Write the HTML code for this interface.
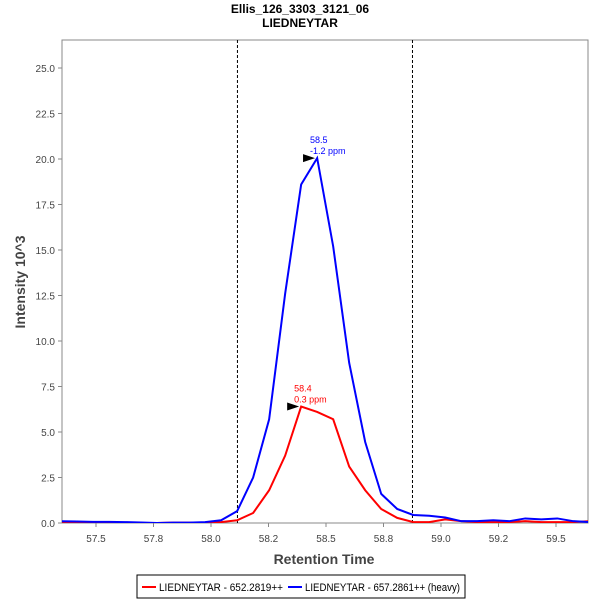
<!DOCTYPE html>
<html><head><meta charset="utf-8"><style>
body{margin:0;background:#fff;font-family:"Liberation Sans",sans-serif}
svg text{font-family:"Liberation Sans",sans-serif}
</style></head><body>
<svg id="c" width="600" height="600">
<text x="300" y="13" text-anchor="middle" font-size="12" font-weight="bold">Ellis_126_3303_3121_06</text>
<text x="300" y="27" text-anchor="middle" font-size="12" font-weight="bold">LIEDNEYTAR</text>
<rect x="62" y="40" width="526" height="483" fill="#fff" stroke="#888"/>
<g id="axes"></g><g id="series"></g>
<text x="324" y="564" text-anchor="middle" font-size="14" font-weight="bold" fill="#444">Retention Time</text>
<text transform="translate(25,282) rotate(-90)" text-anchor="middle" font-size="14" font-weight="bold" fill="#444">Intensity 10^3</text>
<g>
<rect x="137" y="575" width="328" height="23" fill="#fff" stroke="#000"/>
<line x1="142" y1="587" x2="156" y2="587" stroke="red" stroke-width="2"/>
<text x="159" y="591" font-size="11" textLength="124" lengthAdjust="spacingAndGlyphs">LIEDNEYTAR - 652.2819++</text>
<line x1="288" y1="587" x2="302" y2="587" stroke="blue" stroke-width="2"/>
<text x="305" y="591" font-size="11" textLength="155" lengthAdjust="spacingAndGlyphs">LIEDNEYTAR - 657.2861++ (heavy)</text>
</g>
</svg>
<script>
const times=[];for(let i=0;i<34;i++)times.push(57.348+i*0.0696);
const lightValues=[0.05,0.05,0.05,0.05,0.02,0,0,0.02,0.02,0.02,0.05,0.15,0.55,1.8,3.7,6.4,6.1,5.7,3.1,1.8,0.77,0.28,0.05,0.05,0.2,0.1,0.05,0.05,0.05,0.1,0.05,0.05,0.05,0.1];
const heavyValues=[0.1,0.08,0.06,0.06,0.05,0.03,0,0.02,0.02,0.05,0.15,0.65,2.5,5.7,12.6,18.6,20.05,15.2,8.8,4.45,1.6,0.77,0.44,0.4,0.3,0.1,0.1,0.15,0.1,0.25,0.2,0.25,0.1,0.05];
const xTicks=[57.5,57.75,58.0,58.25,58.5,58.75,59.0,59.25,59.5];
const xTickLabels=["57.5","57.8","58.0","58.2","58.5","58.8","59.0","59.2","59.5"];
const yTicks=[0,2.5,5,7.5,10,12.5,15,17.5,20,22.5,25];
const integrationBounds=[58.115,58.876];
const peakLight={t:58.392,v:6.4,label1:"58.4",label2:"0.3 ppm"};
const peakHeavy={t:58.461,v:20.05,label1:"58.5",label2:"-1.2 ppm"};
const X=v=>96+(v-57.5)*230, Y=v=>523-v*18.2;
const NS="http://www.w3.org/2000/svg";
function mk(tag,attrs,parent,txt){const e=document.createElementNS(NS,tag);for(const k in attrs)e.setAttribute(k,attrs[k]);if(txt!=null)e.textContent=txt;parent.appendChild(e);return e;}
const ax=document.getElementById('axes'),se=document.getElementById('series');
xTicks.forEach((t,i)=>{
 const l=mk('line',{x1:X(t),x2:X(t),y1:523,y2:527,stroke:'#888'},ax);
 
 
 const tx=mk('text',{x:X(t),y:542,'text-anchor':'middle','font-size':10,fill:'#444'},ax,xTickLabels[i]);
 
 
});
yTicks.forEach(t=>{
 const l=mk('line',{x1:58,x2:62,y1:Y(t),y2:Y(t),stroke:'#888'},ax);
 
 
 const tx=mk('text',{x:55,y:Y(t)+4,'text-anchor':'end','font-size':10,fill:'#444'},ax,t.toFixed(1));
 
 
});
integrationBounds.forEach(b=>{
 const l=mk('line',{x1:X(b),x2:X(b),y1:40,y2:523,stroke:'#000','stroke-dasharray':'3,2'},ax);
 
 
});
mk('clipPath',{id:'clip'},document.getElementById('c'));
mk('rect',{x:62,y:40,width:526,height:483},document.getElementById('clip'));
function series(vals,color,name){
 const pts=times.map((t,i)=>X(t)+','+Y(vals[i])).join(' ');
 const p=mk('polyline',{points:pts,fill:'none',stroke:color,'stroke-width':2,'clip-path':'url(#clip)'},se);
 
 
}
series(lightValues,'red','light-series-line');
series(heavyValues,'blue','heavy-series-line');
function peak(p,color,name){
 const x=X(p.t),y=Y(p.v);
 const a=mk('polygon',{points:`${x-14},${y-4} ${x-14},${y+4} ${x-2},${y}`,fill:'#000'},se);
 
 
 const t1=mk('text',{x:x-7,y:y-15,'font-size':9,fill:color},se,p.label1);
 
 
 const t2=mk('text',{x:x-7,y:y-4,'font-size':9,fill:color},se,p.label2);
 
 
}
peak(peakLight,'red','light-peak');
peak(peakHeavy,'blue','heavy-peak');
</script>
</body></html>
